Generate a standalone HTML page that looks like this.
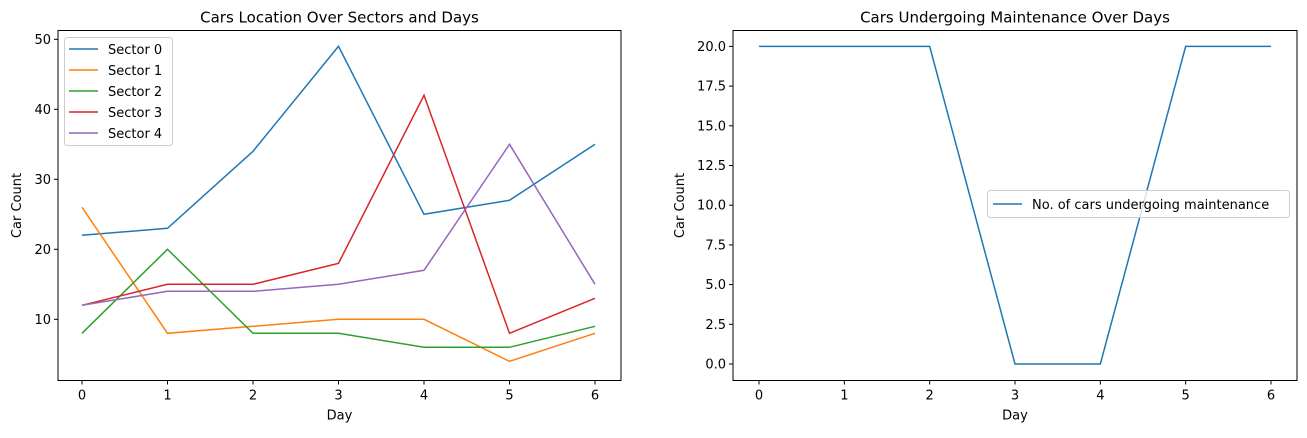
<!DOCTYPE html>
<html><head><meta charset="utf-8"><style>
body{margin:0;background:#fff;font-family:"Liberation Sans","DejaVu Sans",sans-serif}
svg text{font-family:"DejaVu Sans","Liberation Sans",sans-serif;font-size:13px;fill:#000}
</style></head><body>
<svg id="c" width="1307" height="433"></svg>
<script>
const days=[0,1,2,3,4,5,6];
const sector0=[22,23,34,49,25,27,35];
const sector1=[26,8,9,10,10,4,8];
const sector2=[8,20,8,8,6,6,9];
const sector3=[12,15,15,18,42,8,13];
const sector4=[12,14,14,15,17,35,15];
const seriesNames=["Sector 0","Sector 1","Sector 2","Sector 3","Sector 4"];
const leftTicks=[10,20,30,40,50];
const maintenance=[20,20,20,0,0,20,20];
const rightTicks=[0,2.5,5,7.5,10,12.5,15,17.5,20];
const colors=["#1f77b4","#ff7f0e","#2ca02c","#d62728","#9467bd"];
const svg=document.getElementById('c');
const NS="http://www.w3.org/2000/svg";
function mk(t,a,txt){const e=document.createElementNS(NS,t);for(const k in a)e.setAttribute(k,a[k]);if(txt!==undefined)e.textContent=txt;svg.appendChild(e);return e;}
function panel(p){
  const xs=d=>p.x0+(d-0)*(p.x6-p.x0)/6;
  const ys=v=>p.yA+(v-p.vA)*(p.yB-p.yA)/(p.vB-p.vA);
  let e=mk('rect',{x:p.L,y:p.T,width:p.R-p.L,height:p.B-p.T,fill:'none',stroke:'#000','stroke-width':1});
  
  days.forEach(d=>{const x=xs(d);
    e=mk('line',{x1:x,x2:x,y1:p.B,y2:p.B+4,stroke:'#000'});
    e=mk('text',{x:x,y:p.B+19,'text-anchor':'middle'},String(d));});
  p.ticks.forEach(v=>{const y=ys(v);
    e=mk('line',{x1:p.L-4,x2:p.L,y1:y,y2:y,stroke:'#000'});
    e=mk('text',{x:p.L-7,y:y+4.5,'text-anchor':'end'},p.fmt(v));});
  e=mk('text',{x:(p.L+p.R)/2,y:p.B+39,'text-anchor':'middle'},'Day');
  e=mk('text',{x:0,y:0,'text-anchor':'middle',transform:`translate(${p.yt},${(p.T+p.B)/2}) rotate(-90)`},'Car Count');
  e=mk('text',{x:(p.L+p.R)/2,y:p.T-8,'text-anchor':'middle','font-size':'15px',style:'font-size:15px'},p.title);
  p.series.forEach((s,i)=>{
    e=mk('polyline',{points:s.map((v,j)=>xs(days[j])+','+ys(v)).join(' '),fill:'none',stroke:colors[i],'stroke-width':1.5});
    });
}
panel({id:'left',L:58,R:621,T:30.5,B:380.5,x0:82,x6:595,vA:50,yA:39.3,vB:40,yB:109.3,ticks:leftTicks,fmt:v=>String(v),yt:21,
  title:'Cars Location Over Sectors and Days',series:[sector0,sector1,sector2,sector3,sector4]});
panel({id:'right',L:733,R:1297,T:30.5,B:380.5,x0:759,x6:1271,vA:0,yA:364,vB:2.5,yB:324.3,ticks:rightTicks,fmt:v=>v.toFixed(1),yt:684,
  title:'Cars Undergoing Maintenance Over Days',series:[maintenance]});
// left legend
let e=mk('rect',{x:64.5,y:37.5,width:108,height:108,rx:3,fill:'#fff','fill-opacity':0.8,stroke:'#ccc'});

seriesNames.forEach((n,i)=>{const y=49+i*21;
  e=mk('line',{x1:69,x2:98,y1:y,y2:y,stroke:colors[i],'stroke-width':1.5});
  e=mk('text',{x:108,y:y+5},n);});
e=mk('rect',{x:987.5,y:190.5,width:302,height:27,rx:3,fill:'#fff','fill-opacity':0.8,stroke:'#ccc'});

e=mk('line',{x1:993,x2:1022,y1:204,y2:204,stroke:colors[0],'stroke-width':1.5});
e=mk('text',{x:1032,y:209},'No. of cars undergoing maintenance');
</script>
</body></html>
